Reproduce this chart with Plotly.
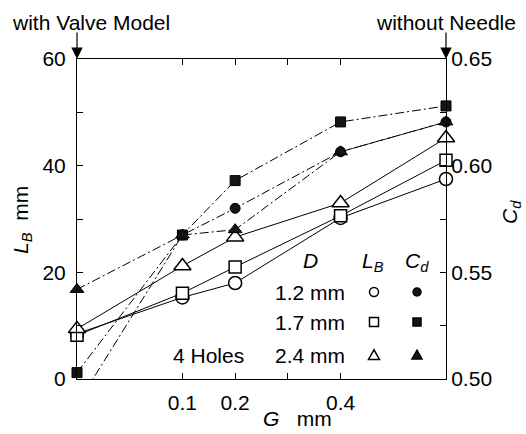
import plotly.graph_objects as go

# positions on G axis: left edge = "with Valve Model", right edge = "without Needle"
g_pos = [-0.1, 0.1, 0.2, 0.4, 0.6]

lb_12 = [8.5, 15.3, 18.0, 30.2, 37.5]
lb_17 = [8.2, 16.1, 21.0, 30.6, 41.0]
lb_24 = [9.4, 21.2, 26.6, 33.0, 45.2]

cd_12 = [0.488, 0.5675, 0.580, 0.6065, 0.6205]
cd_17 = [0.503, 0.5675, 0.593, 0.6205, 0.628]
cd_24 = [0.542, 0.5675, 0.570, 0.6065, 0.6205]

x_tickvals = [0.1, 0.2, 0.3, 0.4]
x_ticktext = ["0.1", "0.2", "", "0.4"]
yl_tickvals = [0, 10, 20, 30, 40, 50, 60]
yl_ticktext = ["0", "", "20", "", "40", "", "60"]
yr_tickvals = [0.5, 0.525, 0.55, 0.575, 0.6, 0.625, 0.65]
yr_ticktext = ["0.50", "", "0.55", "", "0.60", "", "0.65"]

FONT = "Liberation Sans, Arial, sans-serif"
FS = 21
DASH = "9px,3px,2px,3px"
FILL = "#151515"

fig = go.Figure()

def cd_trace(y, sym, size):
    sizes = [size if v >= 0.5 else 0 for v in y]
    return go.Scatter(x=g_pos, y=y, yaxis="y2", mode="lines+markers",
                      line=dict(color="black", width=1, dash=DASH),
                      marker=dict(symbol=sym, size=sizes, color=FILL, opacity=1,
                                  line=dict(color="black", width=1)),
                      cliponaxis=False, showlegend=False)

def lb_trace(y, sym, size):
    return go.Scatter(x=g_pos, y=y, mode="lines+markers",
                      line=dict(color="black", width=1),
                      marker=dict(symbol=sym, size=size, color="white", opacity=1,
                                  line=dict(color="black", width=1.5)),
                      cliponaxis=False, showlegend=False)

fig.add_trace(cd_trace(cd_12, "circle", 10))
fig.add_trace(cd_trace(cd_17, "square", 10))
fig.add_trace(cd_trace(cd_24, "triangle-up", 12))
fig.add_trace(lb_trace(lb_12, "circle", 13))
fig.add_trace(lb_trace(lb_17, "square", 12))
fig.add_trace(lb_trace(lb_24, "triangle-up", 15))

axis_common = dict(showgrid=False, zeroline=False, showline=True, linecolor="black",
                   linewidth=1, ticks="inside", ticklen=6, tickcolor="black",
                   tickfont=dict(family=FONT, size=FS, color="black"))

fig.update_layout(
    width=526, height=434,
    margin=dict(l=77, r=80, t=59, b=55),
    paper_bgcolor="white", plot_bgcolor="white",
    font=dict(family=FONT, size=FS, color="black"),
    xaxis=dict(range=[-0.1, 0.6], tickvals=x_tickvals, ticktext=x_ticktext,
               mirror="ticks", ticklabelstandoff=5, **axis_common),
    yaxis=dict(range=[0, 60], tickvals=yl_tickvals, ticktext=yl_ticktext,
               ticklabelstandoff=6, **axis_common),
    yaxis2=dict(range=[0.5, 0.65], tickvals=yr_tickvals, ticktext=yr_ticktext,
                overlaying="y", side="right", **axis_common),
)

def px2paper(px, py):
    return (px - 77) / 369.0, (379 - py) / 320.0

anns = []
def add_text(text, px, py, xanchor="center", angle=0):
    xp, yp = px2paper(px, py)
    anns.append(dict(text=text, x=xp, y=yp, xref="paper", yref="paper",
                     xanchor=xanchor, yanchor="middle", showarrow=False,
                     textangle=angle, font=dict(family=FONT, size=FS, color="black")))

add_text("with Valve Model", 10, 23, "left")
add_text("without Needle", 518, 23, "right")
add_text("<i>L</i><sub><i>B</i></sub>  mm", 22, 220, angle=-90)
add_text("<i>C</i><sub><i>d</i></sub>", 511, 212, angle=-90)
add_text("<i>G</i>   mm", 297, 418)
add_text("<i>D</i>", 310, 260)
add_text("<i>L</i><sub><i>B</i></sub>", 373, 262)
add_text("<i>C</i><sub><i>d</i></sub>", 417, 262)
add_text("1.2 mm", 347, 292, "right")
add_text("1.7 mm", 347, 322, "right")
add_text("2.4 mm", 347, 355, "right")
add_text("4 Holes", 208, 355)

# arrows at top
for px in (77, 446):
    xp, yp = px2paper(px, 59)
    anns.append(dict(text="", x=xp, y=yp, xref="paper", yref="paper",
                     showarrow=True, ax=0, ay=-28, arrowhead=2, arrowsize=1.9,
                     arrowwidth=1.2, arrowcolor="black", standoff=0))

fig.update_layout(annotations=anns)

# legend key symbols
shapes = []
def circ(px, py, r, fill):
    xp, yp = px2paper(px, py)
    shapes.append(dict(type="circle", xref="paper", yref="paper", xsizemode="pixel",
                       ysizemode="pixel", xanchor=xp, yanchor=yp, x0=-r, x1=r, y0=-r, y1=r,
                       line=dict(color="black", width=1.5), fillcolor=fill))
def sq(px, py, r, fill):
    xp, yp = px2paper(px, py)
    shapes.append(dict(type="rect", xref="paper", yref="paper", xsizemode="pixel",
                       ysizemode="pixel", xanchor=xp, yanchor=yp, x0=-r, x1=r, y0=-r, y1=r,
                       line=dict(color="black", width=1.5), fillcolor=fill))
def tri(px, py, r, fill):
    xp, yp = px2paper(px, py)
    path = f"M {-r},{-r*0.8} L {r},{-r*0.8} L 0,{r*0.95} Z"
    shapes.append(dict(type="path", xref="paper", yref="paper", xsizemode="pixel",
                       ysizemode="pixel", xanchor=xp, yanchor=yp, path=path,
                       line=dict(color="black", width=1.5), fillcolor=fill))

circ(374, 292, 4.5, "white"); circ(417, 292, 4, FILL)
sq(374, 322, 4.5, "white"); sq(417, 322, 4, FILL)
tri(374, 355, 5.5, "white"); tri(417, 355, 5, FILL)
fig.update_layout(shapes=shapes)

fig.write_html("out.html")
